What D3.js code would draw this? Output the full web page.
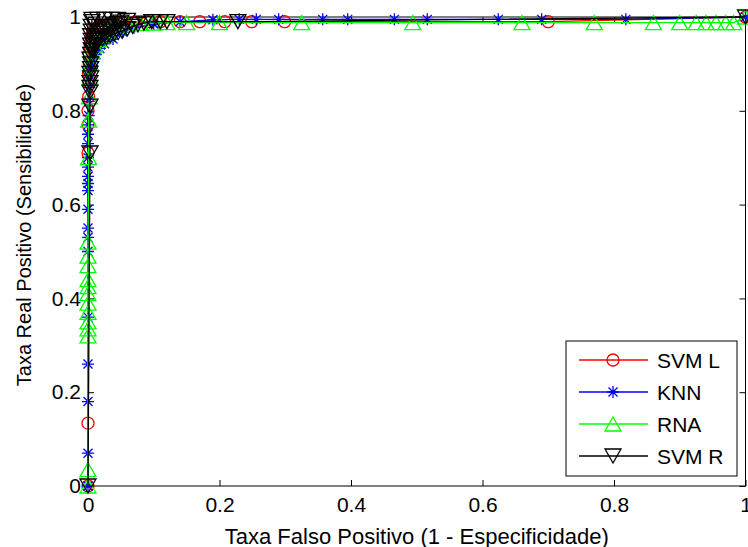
<!DOCTYPE html>
<html>
<head>
<meta charset="utf-8">
<script src="https://cdn.jsdelivr.net/npm/d3@7"></script>
<style>
  body { margin: 0; background: #fff; }
  text { font-family: "Liberation Sans", Arial, sans-serif; fill: #000; }
</style>
</head>
<body>
<script>
// ROC data
var svmL_fpr = [0, 0, 0, 0, 0, 0.001, 0.001, 0.001, 0.002, 0.002, 0.003, 0.004, 0.005, 0.006, 0.008, 0.010, 0.013, 0.017, 0.022, 0.03, 0.04, 0.055, 0.07, 0.09, 0.11, 0.14, 0.17, 0.208, 0.249, 0.299, 0.7, 1];
var svmL_tpr = [0, 0.134, 0.71, 0.77, 0.80, 0.83, 0.86, 0.88, 0.90, 0.92, 0.935, 0.945, 0.955, 0.962, 0.968, 0.973, 0.977, 0.98, 0.982, 0.985, 0.987, 0.988, 0.989, 0.99, 0.99, 0.99, 0.99, 0.99, 0.99, 0.99, 0.99, 1];

var knn_fpr = [0, 0, 0, 0, 0, 0, 0, 0, 0, 0, 0, 0, 0, 0, 0, 0, 0, 0.001, 0.001, 0.002, 0.003, 0.005, 0.008, 0.012, 0.018, 0.025, 0.038, 0.053, 0.07, 0.1, 0.14, 0.19, 0.23, 0.256, 0.29, 0.357, 0.395, 0.466, 0.516, 0.624, 0.69, 0.818, 1];
var knn_tpr = [0, 0.07, 0.18, 0.26, 0.36, 0.50, 0.53, 0.55, 0.59, 0.63, 0.645, 0.66, 0.68, 0.70, 0.73, 0.75, 0.77, 0.79, 0.82, 0.85, 0.87, 0.89, 0.905, 0.92, 0.933, 0.943, 0.953, 0.968, 0.977, 0.985, 0.99, 0.994, 0.995, 0.995, 0.995, 0.995, 0.995, 0.995, 0.995, 0.995, 0.995, 0.995, 1];

var rna_fpr = [0, 0, 0, 0, 0, 0, 0, 0, 0, 0, 0, 0, 0, 0.001, 0.001, 0.002, 0.003, 0.004, 0.006, 0.010, 0.016, 0.023, 0.030, 0.044, 0.06, 0.08, 0.10, 0.12, 0.15, 0.20, 0.325, 0.494, 0.66, 0.77, 0.86, 0.90, 0.925, 0.94, 0.955, 0.97, 0.982, 1];
var rna_tpr = [0, 0.035, 0.32, 0.335, 0.35, 0.37, 0.39, 0.41, 0.425, 0.44, 0.47, 0.49, 0.52, 0.70, 0.78, 0.83, 0.87, 0.90, 0.925, 0.94, 0.952, 0.96, 0.97, 0.98, 0.984, 0.986, 0.987, 0.988, 0.988, 0.988, 0.988, 0.988, 0.988, 0.988, 0.988, 0.988, 0.988, 0.988, 0.988, 0.988, 0.988, 1];

var svmR_fpr = [0, 0.003, 0.003,
  0.003, 0.003, 0.003, 0.004, 0.003, 0.004, 0.004, 0.003, 0.004, 0.005, 0.004, 0.005, 0.004, 0.005, 0.005, 0.006, 0.006,
  0.015, 0.025, 0.035, 0.045,
  0.007, 0.008, 0.010, 0.012, 0.015, 0.018, 0.022, 0.026, 0.030, 0.035, 0.040, 0.045, 0.050, 0.060,
  0.008, 0.011, 0.016, 0.022, 0.028, 0.034, 0.040, 0.046, 0.052, 0.060, 0.068, 0.076, 0.085, 0.097, 0.110, 0.120, 0.228, 1];
var svmR_tpr = [0, 0.71, 0.81,
  0.84, 0.85, 0.86, 0.87, 0.88, 0.89, 0.90, 0.91, 0.92, 0.93, 0.94, 0.95, 0.96, 0.97, 0.98, 0.99, 0.995,
  0.995, 0.995, 0.995, 0.995,
  0.93, 0.94, 0.95, 0.955, 0.96, 0.965, 0.97, 0.974, 0.977, 0.98, 0.983, 0.986, 0.989, 0.993,
  0.93, 0.945, 0.95, 0.953, 0.956, 0.96, 0.964, 0.967, 0.97, 0.975, 0.98, 0.984, 0.987, 0.99, 0.99, 0.99, 0.99, 1];

var seriesNames = ["SVM L", "KNN", "RNA", "SVM R"];
var seriesColors = ["#ff0000", "#0000ff", "#00ff00", "#000000"];
var seriesMarkers = ["circle", "asterisk", "triUp", "triDown"];

var tickValues = [0, 0.2, 0.4, 0.6, 0.8, 1];
var tickLabels = ["0", "0.2", "0.4", "0.6", "0.8", "1"];

var xTitle = "Taxa Falso Positivo (1 - Especificidade)";
var yTitle = "Taxa Real Positivo (Sensibilidade)";

(function() {
  var W = 748, H = 547;
  var left = 88, right = 745.5, top = 17, bottom = 486;

  var svg = d3.select("body").append("svg")
    .attr("width", W).attr("height", H);

  var x = d3.scaleLinear().domain([0, 1]).range([left, right]);
  var y = d3.scaleLinear().domain([0, 1]).range([bottom, top]);

  var series = [
    {fpr: svmL_fpr, tpr: svmL_tpr},
    {fpr: knn_fpr, tpr: knn_tpr},
    {fpr: rna_fpr, tpr: rna_tpr},
    {fpr: svmR_fpr, tpr: svmR_tpr}
  ];

  var markerPath = {
    asterisk: "M0,-6V6M-6,0H6M-4.5,-4.5L4.5,4.5M-4.5,4.5L4.5,-4.5",
    triUp: "M0,-7L8,7H-8Z",
    triDown: "M-8,-7H8L0,7Z"
  };

  function drawMarker(g, kind, color, px, py) {
    if (kind === "circle") {
      g.append("circle").attr("cx", px).attr("cy", py).attr("r", 6)
        .attr("fill", "none").attr("stroke", color).attr("stroke-width", 1.3);
    } else {
      g.append("path").attr("d", markerPath[kind])
        .attr("transform", "translate(" + px + "," + py + ")")
        .attr("fill", "none").attr("stroke", color).attr("stroke-width", 1.3);
    }
  }

  // axes box
  svg.append("rect")
    .attr("x", left).attr("y", top)
    .attr("width", right - left).attr("height", bottom - top)
    .attr("fill", "#fff").attr("stroke", "#000").attr("stroke-width", 1);

  var fontSize = 21;
  var xAxis = svg.append("g").attr("transform", "translate(0," + bottom + ")")
    .call(d3.axisBottom(x).tickValues(tickValues)
      .tickFormat(function(d, i) { return tickLabels[i]; })
      .tickSizeInner(-6).tickSizeOuter(0).tickPadding(11));
  var yAxis = svg.append("g").attr("transform", "translate(" + left + ",0)")
    .call(d3.axisLeft(y).tickValues(tickValues)
      .tickFormat(function(d, i) { return tickLabels[i]; })
      .tickSizeInner(-6).tickSizeOuter(0).tickPadding(7));
  var xTop = svg.append("g").attr("transform", "translate(0," + top + ")")
    .call(d3.axisTop(x).tickValues(tickValues).tickFormat("")
      .tickSizeInner(-6).tickSizeOuter(0));
  var yRight = svg.append("g").attr("transform", "translate(" + right + ",0)")
    .call(d3.axisRight(y).tickValues(tickValues).tickFormat("")
      .tickSizeInner(-6).tickSizeOuter(0));

  [xAxis, yAxis, xTop, yRight].forEach(function(a) {
    a.select(".domain").remove();
    a.attr("font-size", fontSize).attr("font-family", "Liberation Sans, Arial, sans-serif");
    a.selectAll("line").attr("stroke", "#000");
  });

  // curves
  var line = d3.line()
    .x(function(d) { return x(d[0]); })
    .y(function(d) { return y(d[1]); });

  series.forEach(function(s, i) {
    var pts = s.fpr.map(function(f, j) { return [f, s.tpr[j]]; });
    var g = svg.append("g");
    g.append("path").datum(pts)
      .attr("d", line)
      .attr("fill", "none")
      .attr("stroke", seriesColors[i])
      .attr("stroke-width", 1.3);
    pts.forEach(function(p) {
      drawMarker(g, seriesMarkers[i], seriesColors[i], x(p[0]), y(p[1]));
    });
  });

  // titles
  svg.append("text")
    .attr("x", (left + right) / 2).attr("y", 544)
    .attr("text-anchor", "middle")
    .attr("font-size", 22)
    .text(xTitle);
  svg.append("text")
    .attr("transform", "translate(31,235) rotate(-90)")
    .attr("text-anchor", "middle")
    .attr("font-size", 20)
    .text(yTitle);

  // legend
  var lg = svg.append("g");
  lg.append("rect")
    .attr("x", 566).attr("y", 341).attr("width", 171).attr("height", 135)
    .attr("fill", "#fff").attr("stroke", "#000").attr("stroke-width", 1);
  var rowY = d3.scalePoint().domain(seriesNames).range([360, 456]);
  seriesNames.forEach(function(name, i) {
    var ry = rowY(name);
    lg.append("line")
      .attr("x1", 579).attr("x2", 648).attr("y1", ry).attr("y2", ry)
      .attr("stroke", seriesColors[i]).attr("stroke-width", 1.3);
    drawMarker(lg, seriesMarkers[i], seriesColors[i], 613, ry);
    lg.append("text")
      .attr("x", 657).attr("y", ry).attr("dy", "0.36em")
      .attr("font-size", 21)
      .text(name);
  });
})();
</script>
</body>
</html>
